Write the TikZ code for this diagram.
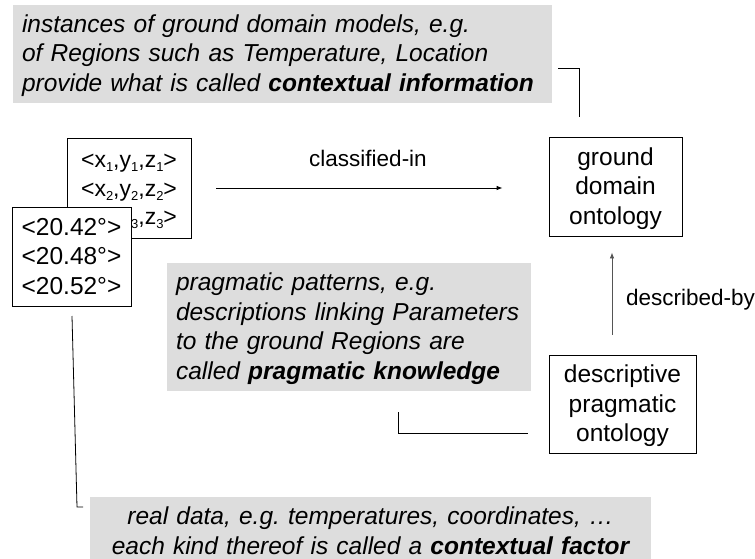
\documentclass[tikz,border=0pt]{standalone}
\usepackage{fontspec}
\setmainfont{Liberation Sans}
\usetikzlibrary{arrows.meta}
\definecolor{notegray}{HTML}{DDDDDD}
\definecolor{linkgray}{HTML}{555555}
\newcommand\notesize{\fontsize{24.5}{29.5}\selectfont}
\newcommand\boxsize{\fontsize{24.5}{29.5}\selectfont}
\newcommand\tuplesize{\fontsize{23}{28.5}\selectfont}
\newcommand\labelsize{\fontsize{22.5}{27}\selectfont}
% fixed first-line height and last-line depth, so every block centres alike
\newcommand\tophold{\rule{0pt}{22pt}}
\newcommand\bothold{\rule[-6pt]{0pt}{6pt}}
% small lowered index
\newcommand\idx[1]{\raisebox{-0.35ex}{\fontsize{13}{13}\selectfont #1}}
\frenchspacing
\begin{document}
\begin{tikzpicture}[x=1pt,y=-1pt,
  note/.style={fill=notegray, inner sep=0pt, font=\itshape\notesize},
  thing/.style={draw=black, line width=0.8pt, fill=white, inner sep=0pt,
    align=center, font=\boxsize},
  link/.style={draw=black, line width=0.8pt},
  relarrow/.style={line width=0.8pt, -{Latex[length=6pt,width=4.5pt]}},
  rellabel/.style={font=\labelsize, inner sep=0pt}]
\useasboundingbox (0,0) rectangle (755,559);
\clip (0,0) rectangle (755,559);

% explanatory notes
\node[note, minimum width=539pt, minimum height=98pt, text width=521pt,
  align=left] (info) at (282.5,54)
  {\tophold instances of ground domain models, e.g.\\
   of Regions such as Temperature, Location\\
   provide what is called \textbf{contextual information}\bothold};
\node[note, minimum width=364pt, minimum height=128pt, text width=346pt,
  align=left] (know) at (349,327)
  {\tophold pragmatic patterns, e.g.\\
   descriptions linking Parameters\\
   to the ground Regions are\\
   called \textbf{pragmatic knowledge}\bothold};
\node[note, minimum width=561pt, minimum height=69pt, text width=561pt,
  align=center] (factor) at (370.5,531.5)
  {\tophold real data, e.g. temperatures, coordinates, \dots\\
   each kind thereof is called a \textbf{contextual factor}\bothold};

% data and ontologies
\node[thing, font=\tuplesize, minimum width=124pt, minimum height=100pt]
  (xyz) at (129,188)
  {\tophold<x\idx{1},y\idx{1},z\idx{1}>\\
   <x\idx{2},y\idx{2},z\idx{2}>\\
   <x\idx{3},y\idx{3},z\idx{3}>\bothold};
\node[thing, minimum width=119pt, minimum height=99pt] (temp) at (71.5,256.5)
  {\tophold<20.42°>\\<20.48°>\\<20.52°>\bothold};
\node[thing, minimum width=133pt, minimum height=99pt] (gdo) at (615.5,186.5)
  {\tophold ground\\domain\\ontology\bothold};
\node[thing, minimum width=147pt, minimum height=98pt] (dpo) at (622.5,404)
  {\tophold descriptive\\pragmatic\\ontology\bothold};

% relations
\draw[relarrow, shorten <=25pt, shorten >=46pt] (xyz.east) -- (xyz.east -| gdo.west);
\node[rellabel] (cls) at (368,158) {classified-in};
\draw[relarrow, draw=linkgray, shorten <=20pt, shorten >=16pt]
  ([xshift=-10.5pt]dpo.north) -- ([xshift=-3.5pt]gdo.south);
\node[rellabel, anchor=west] (dby) at (626,300) {described-by};

% brackets tying notes to the items they explain
\coordinate (infoA) at (558,68);
\coordinate (infoB) at (579,68);
\coordinate (infoC) at (579,117);
\draw[link] (infoA) -- (infoB) -- (infoC);
\coordinate (knowA) at (398,412);
\coordinate (knowB) at (398,433);
\coordinate (knowC) at (528,433);
\draw[link] (knowA) -- (knowB) -- (knowC);
\coordinate (factA) at (72,316);
\coordinate (factB) at (77,507);
\coordinate (factC) at (83,507);
\draw[link] (factA) -- (factB) -- (factC);
\end{tikzpicture}
\end{document}
